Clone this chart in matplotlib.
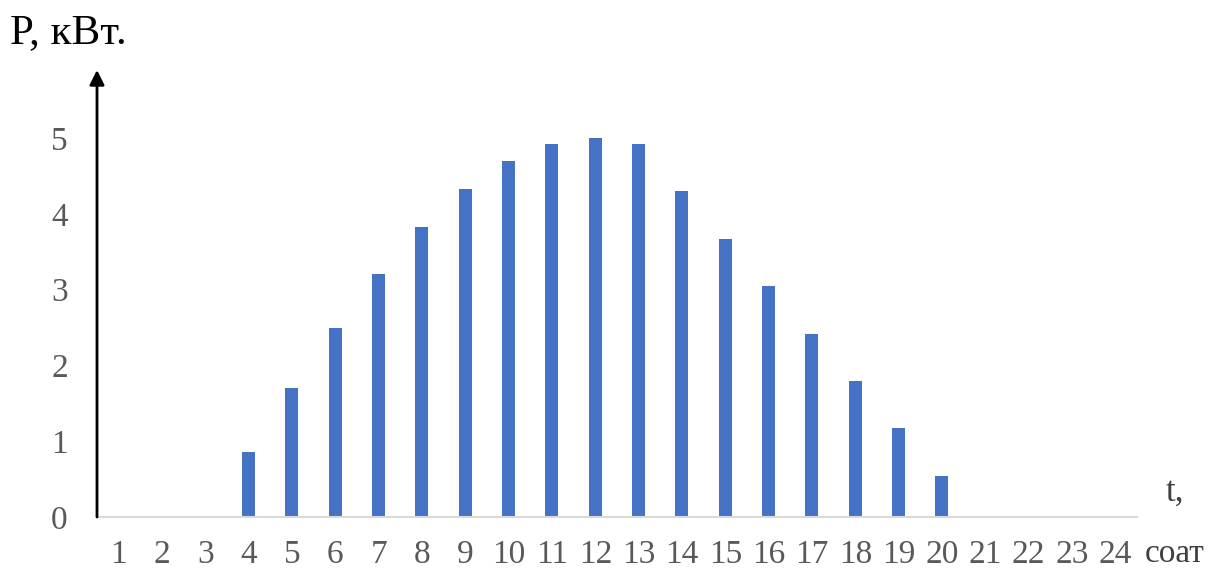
import matplotlib.pyplot as plt

hours = list(range(1, 25))
power = [0, 0, 0, 0.86, 1.70, 2.49, 3.21, 3.83, 4.33, 4.70, 4.92, 5.0,
         4.92, 4.30, 3.67, 3.05, 2.41, 1.79, 1.17, 0.54, 0, 0, 0, 0]
yticks = [0, 1, 2, 3, 4, 5]

plt.rcParams['font.family'] = ['Liberation Serif', 'DejaVu Serif']

fig = plt.figure(figsize=(12.08, 5.71), dpi=100)
ax = fig.add_axes([97 / 1208, 1 - 517 / 571, 1040 / 1208, 447 / 571])

ax.bar(hours, power, width=0.3, color='#4472C4')
ax.set_xlim(0.5, 24.5)
ax.set_ylim(0, 5.9)

ax.set_xticks(hours)
ax.set_xticklabels([str(h) for h in hours])
ax.set_yticks(yticks)
ax.tick_params(axis='both', length=0, labelsize=24, colors='#595959')
ax.tick_params(axis='x', pad=16)
ax.tick_params(axis='y', pad=21)

for s in ['top', 'right', 'left']:
    ax.spines[s].set_visible(False)
ax.spines['bottom'].set_color('#D9D9D9')
ax.spines['bottom'].set_linewidth(1.5)

# y axis drawn as an arrow
ax.annotate('', xy=(0, 1), xytext=(0, 0), xycoords='axes fraction',
            arrowprops=dict(arrowstyle='-|>', color='black', lw=2,
                            mutation_scale=22, shrinkA=0, shrinkB=0))

fig.text(10 / 1208, 1 - 33 / 571, 'P, кВт.', fontsize=31, color='black',
         va='center', ha='left')
fig.text(1175 / 1208, 1 - 492 / 571, 't,', fontsize=25, color='#404040',
         va='center', ha='center')
fig.text(1175 / 1208, 1 - 569 / 571, 'соат', fontsize=24, color='#404040',
         va='bottom', ha='center')

fig.savefig('out.png', dpi=100)
